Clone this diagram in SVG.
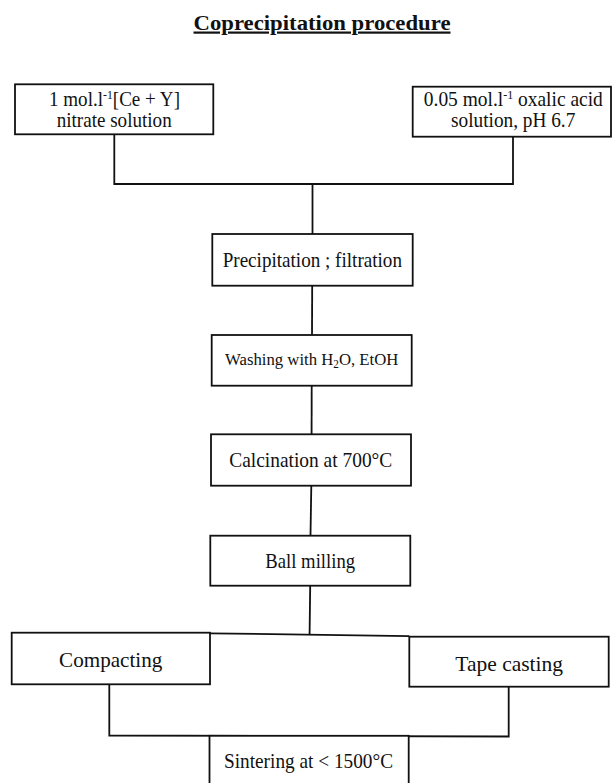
<svg xmlns="http://www.w3.org/2000/svg" width="612" height="783" viewBox="0 0 612 783">
<style>
.box{fill:#fff;stroke:#111;stroke-width:1.8}
.con{fill:none;stroke:#111;stroke-width:1.8}
text{font-family:"Liberation Serif","Times New Roman",serif;fill:#111;text-anchor:middle}
.t{font-size:20.3px}
.big{font-size:21.5px}
.sm{font-size:17.3px}
.sup{font-size:12.5px}
</style>
<rect width="612" height="783" fill="#fff"/>
<g id="title">
<text x="322" y="29.5" style="font-size:22px;font-weight:bold;text-decoration:underline" textLength="257" lengthAdjust="spacingAndGlyphs">Coprecipitation procedure</text>
</g>
<g id="connectors">
<polyline class="con" points="114.3,134.3 114.3,184 513,184 513,136.7"/>
<line class="con" x1="312.5" y1="184" x2="312.5" y2="234"/>
<line class="con" x1="312.2" y1="285.7" x2="312" y2="335"/>
<line class="con" x1="311.7" y1="385.7" x2="311.6" y2="434.3"/>
<line class="con" x1="311.3" y1="485.7" x2="310.5" y2="535.7"/>
<line class="con" x1="310.2" y1="585.7" x2="309.6" y2="634.3"/>
<line class="con" x1="210" y1="633.3" x2="409.3" y2="636.2"/>
<polyline class="con" points="109.3,684.3 109.3,735.5 508.7,736.5 508.7,686.7"/>
</g>
<g id="n_nitrate">
<rect class="box" x="15" y="84.3" width="198.3" height="50"/>
<text class="t" x="114.5" y="106" textLength="131" lengthAdjust="spacingAndGlyphs">1 mol.l<tspan class="sup" dy="-7.5">-1</tspan><tspan dy="7.5">[Ce + Y]</tspan></text>
<text class="t" x="114.2" y="126.7" textLength="115" lengthAdjust="spacingAndGlyphs">nitrate solution</text>
</g>
<g id="n_oxalic">
<rect class="box" x="412.7" y="86.7" width="198.3" height="50"/>
<text class="t" x="513.3" y="106" textLength="179" lengthAdjust="spacingAndGlyphs">0.05 mol.l<tspan class="sup" dy="-7.5">-1</tspan><tspan dy="7.5"> oxalic acid</tspan></text>
<text class="t" x="513.2" y="126.7" textLength="124.3" lengthAdjust="spacingAndGlyphs">solution, pH 6.7</text>
</g>
<g id="n_precip">
<rect class="box" x="212.3" y="234" width="200.4" height="51.7"/>
<text class="t" x="312.3" y="266.7" textLength="179.3" lengthAdjust="spacingAndGlyphs">Precipitation ; filtration</text>
</g>
<g id="n_washing">
<rect class="box" x="211.7" y="335" width="200" height="50.7"/>
<text class="sm" x="311.7" y="365" textLength="173.3" lengthAdjust="spacingAndGlyphs">Washing with H<tspan style="font-size:11.5px" dy="3">2</tspan><tspan dy="-3">O, EtOH</tspan></text>
</g>
<g id="n_calc">
<rect class="box" x="211" y="434.3" width="200" height="51.4"/>
<text class="t" x="310.8" y="466.7" textLength="163" lengthAdjust="spacingAndGlyphs">Calcination at 700°C</text>
</g>
<g id="n_ball">
<rect class="box" x="210.3" y="535.7" width="200" height="50"/>
<text class="t" x="310.2" y="567.7" textLength="89.7" lengthAdjust="spacingAndGlyphs">Ball milling</text>
</g>
<g id="n_compact">
<rect class="box" x="11.7" y="632.7" width="198.3" height="51.6"/>
<text class="big" x="110.7" y="666.7" textLength="103.3" lengthAdjust="spacingAndGlyphs">Compacting</text>
</g>
<g id="n_tape">
<rect class="box" x="409.3" y="636.7" width="199.4" height="50"/>
<text class="big" x="509.2" y="670.7" textLength="107.7" lengthAdjust="spacingAndGlyphs">Tape casting</text>
</g>
<g id="n_sinter">
<rect class="box" x="209.5" y="735.8" width="199.2" height="60"/>
<text class="t" x="308.5" y="768.3" textLength="169" lengthAdjust="spacingAndGlyphs">Sintering at &lt; 1500°C</text>
</g>
</svg>
